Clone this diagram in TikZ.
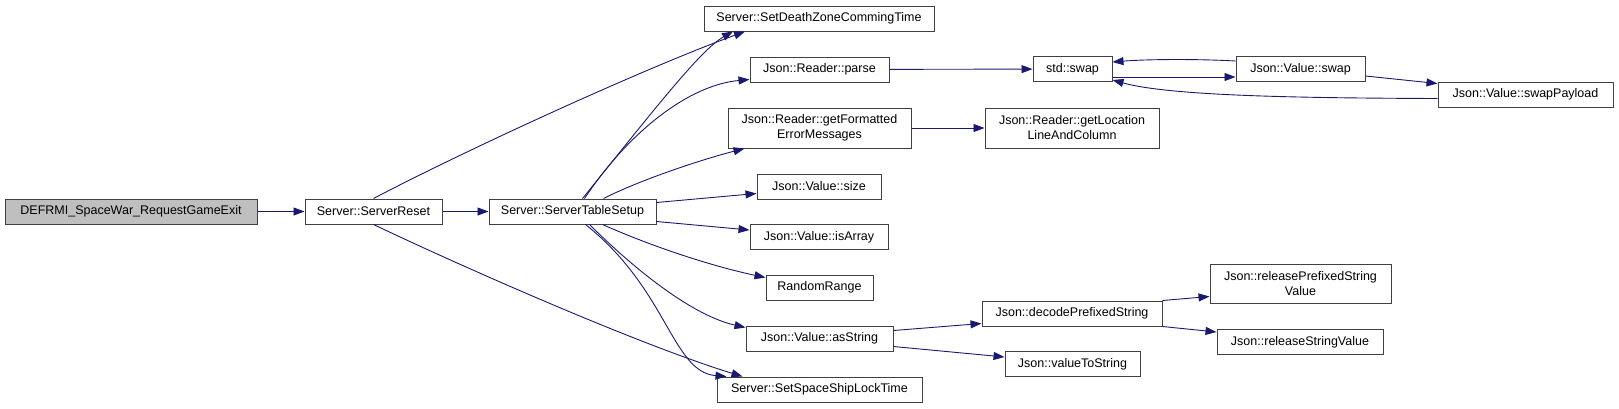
\documentclass[tikz,border=0pt]{standalone}
\usepackage{fontspec}
\setmainfont{Liberation Sans}
\usetikzlibrary{arrows.meta}
\definecolor{edgeblue}{HTML}{191970}
\definecolor{callergray}{HTML}{BFBFBF}

\begin{document}
\begin{tikzpicture}[x=1pt,y=-1pt,-{Triangle[length=11pt,width=8pt]},draw=edgeblue,line width=0.9pt]
  \tikzstyle{fn}=[draw=black!75,fill=white,rectangle,line width=1pt,minimum height=25pt,inner sep=0pt,text=black,align=center,font=\fontsize{12.5}{15}\selectfont]
  \useasboundingbox (0,0) rectangle (1619,408);
  \node[fn,fill=callergray,minimum width=252pt] (D) at (131,211.5) {DEFRMI\_SpaceWar\_RequestGameExit};
  \node[fn,minimum width=137pt] (R) at (373.5,211.5) {Server::ServerReset};
  \node[fn,minimum width=167pt] (S) at (572.5,211.5) {Server::ServerTableSetup};
  \node[fn,minimum width=230pt] (DZ) at (819,18.5) {Server::SetDeathZoneCommingTime};
  \node[fn,minimum width=139pt] (P) at (819.5,69.5) {Json::Reader::parse};
  \node[fn,minimum width=183pt,minimum height=40pt] (F) at (819.5,128) {Json::Reader::getFormatted\\ErrorMessages};
  \node[fn,minimum width=124pt] (Z) at (819,186.5) {Json::Value::size};
  \node[fn,minimum width=138pt] (A) at (819,237) {Json::Value::isArray};
  \node[fn,minimum width=107pt] (RR) at (819.5,287.5) {RandomRange};
  \node[fn,minimum width=147pt] (AS) at (819.5,338.5) {Json::Value::asString};
  \node[fn,minimum width=205pt] (SS) at (819.5,389.5) {Server::SetSpaceShipLockTime};
  \node[fn,minimum width=79pt] (SW) at (1072.5,69) {std::swap};
  \node[fn,minimum width=174pt,minimum height=40pt] (LC) at (1072,128) {Json::Reader::getLocation\\LineAndColumn};
  \node[fn,minimum width=129pt] (VS) at (1300.5,69) {Json::Value::swap};
  \node[fn,minimum width=175pt] (PL) at (1525.5,94.5) {Json::Value::swapPayload};
  \node[fn,minimum width=180pt] (DC) at (1072,313.5) {Json::decodePrefixedString};
  \node[fn,minimum width=135pt] (VT) at (1072.5,364) {Json::valueToString};
  \node[fn,minimum width=181pt,minimum height=39pt] (RP) at (1300.5,283.5) {Json::releasePrefixedString\\Value};
  \node[fn,minimum width=166pt] (RS) at (1300,342) {Json::releaseStringValue};
  % callers of the reset
  \draw (D) -- (R);
  \draw (R) -- (S);
  \draw (R.north) .. controls (462,152) and (640,70) .. ([xshift=-74pt]DZ.south);
  \draw (R.south) .. controls (465,268) and (640,345) .. ([xshift=26pt]SS.north west);
  % table setup
  \draw ([xshift=10pt]S.north) .. controls (650,115) and (700,50) .. ([xshift=-86pt]DZ.south);
  \draw ([xshift=12pt]S.north) .. controls (630,130) and (690,85) .. ([yshift=3pt]P.south west);
  \draw ([xshift=31pt]S.north) .. controls (640,180) and (700,160) .. ([xshift=17pt]F.south west);
  \draw ([yshift=-4pt]S.north east) -- ([yshift=6pt]Z.south west);
  \draw ([yshift=3pt]S.south east) -- ([yshift=-6pt]A.north west);
  \draw ([xshift=30pt]S.south) .. controls (660,250) and (720,268) .. ([yshift=-3pt]RR.north west);
  \draw ([xshift=17pt]S.south) .. controls (630,265) and (690,315) .. ([yshift=-2pt]AS.north west);
  \draw ([xshift=13pt]S.south) .. controls (668,290) and (672,372) .. ([xshift=10pt]SS.north west);
  % swap cycle
  \draw (P) -- (SW);
  \draw (F) -- (LC);
  \draw ([yshift=5pt]SW.south east) -- ([yshift=5pt]VS.south west);
  \draw ([yshift=-5pt]VS.north west) .. controls (1200,59) and (1150,59) .. ([yshift=-6pt]SW.north east);
  \draw ([yshift=6pt]VS.south east) -- ([yshift=-2pt]PL.north west);
  \draw ([yshift=9pt]PL.south west) .. controls (1300,98) and (1170,96) .. ([yshift=2pt]SW.south east);
  % string helpers
  \draw ([yshift=-5pt]AS.north east) -- ([yshift=3pt]DC.south west);
  \draw ([yshift=5pt]AS.south east) -- ([yshift=-6pt]VT.north west);
  \draw (DC.north east) -- ([yshift=7pt]RP.south west);
  \draw (DC.south east) -- ([yshift=-3pt]RS.north west);
\end{tikzpicture}
\end{document}
